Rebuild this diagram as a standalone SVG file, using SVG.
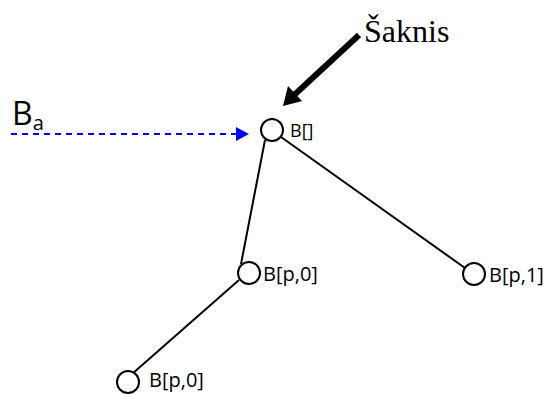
<svg xmlns="http://www.w3.org/2000/svg" width="550" height="394" viewBox="0 0 550 394">
<defs>
<style>
.node{fill:#fff;stroke:#000;stroke-width:2}
.lbl{font-family:"Open Sans","Noto Sans",sans-serif;font-size:20px;fill:#000}
.edge{stroke:#000;stroke-width:2;fill:none}
</style>
</defs>
<rect width="550" height="394" fill="#fff"/>
<g id="connectors">
<line class="edge" x1="265" y1="140" x2="241" y2="264"/>
<line class="edge" x1="281" y1="137" x2="465" y2="268"/>
<line class="edge" x1="239" y1="280" x2="132" y2="374"/>
<line x1="359" y1="35" x2="292" y2="97" stroke="#000" stroke-width="6"/>
<path d="M283,106 L288,86 L302,101 z" fill="#000"/>
<line x1="11" y1="134" x2="236" y2="134" stroke="#00f" stroke-width="2" stroke-dasharray="6,5"/>
<path d="M236,127 L249,134 L236,141 z" fill="#00f"/>
</g>
<g id="root"><circle class="node" cx="272" cy="130" r="11"/><text class="lbl" x="290" y="137" style="font-size:18px">B[]</text></g>
<g id="left"><circle class="node" cx="249" cy="273" r="11"/><text class="lbl" x="263" y="281">B[p,0]</text></g>
<g id="right"><circle class="node" cx="474" cy="274" r="11"/><text class="lbl" x="489" y="282">B[p,1]</text></g>
<g id="leftleft"><circle class="node" cx="128" cy="382" r="11"/><text class="lbl" x="149" y="387">B[p,0]</text></g>
<g id="saknis"><text x="364" y="42" font-family="Liberation Serif, serif" font-size="32">Šaknis</text></g>
<g id="ba"><text x="12" y="125" font-family="Open Sans, sans-serif" font-size="32">B<tspan font-size="20" dy="5">a</tspan></text></g>
</svg>
